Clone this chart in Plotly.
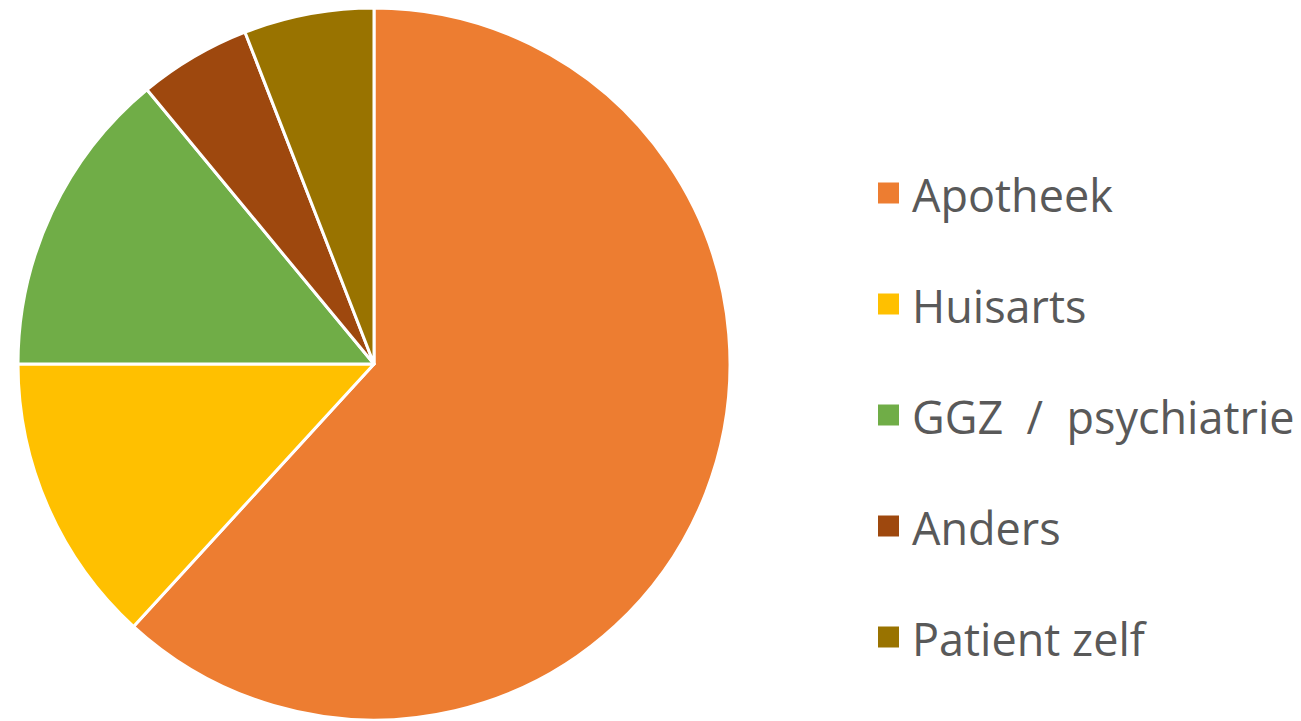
import plotly.graph_objects as go

labels = ["Apotheek", "Huisarts", "GGZ / psychiatrie", "Anders", "Patient zelf"]
values = [61.8, 13.2, 14.0, 5.1, 5.9]
colors = ["#ED7D31", "#FFC000", "#70AD47", "#9E480E", "#997300"]

W, H = 1301, 721
OFF = 8  # default page body margin
cx, cy, r = 374 - OFF, 364 - OFF, 356

fig = go.Figure(go.Pie(
    labels=labels, values=values, sort=False, direction="clockwise", rotation=0,
    marker=dict(colors=colors, line=dict(color="white", width=3)),
    textinfo="none", hoverinfo="label+percent",
    domain=dict(x=[(cx - r) / W, (cx + r) / W], y=[(H - cy - r) / H, (H - cy + r) / H]),
))

# legend drawn manually to match the reference marker size
y0, dy = 193 - OFF, 111
for i, (lab, col) in enumerate(zip(labels, colors)):
    yc = y0 + i * dy
    fig.add_shape(type="rect", xref="paper", yref="paper",
                  x0=(878 - OFF) / W, x1=(899 - OFF) / W,
                  y0=(H - yc - 10.5) / H, y1=(H - yc + 10.5) / H,
                  fillcolor=col, line=dict(width=0))
    fig.add_annotation(x=(910 - OFF) / W, y=(H - yc - 1) / H, xref="paper", yref="paper",
                       text=lab.replace(" / ", "&nbsp;&nbsp;/&nbsp;&nbsp;"), showarrow=False,
                       xanchor="left", yanchor="middle",
                       font=dict(family="Open Sans", size=45, color="#595959"))

fig.update_layout(width=W, height=H, margin=dict(l=0, r=0, t=0, b=0),
                  showlegend=False, paper_bgcolor="white", plot_bgcolor="white")
fig.write_html("out.html")
